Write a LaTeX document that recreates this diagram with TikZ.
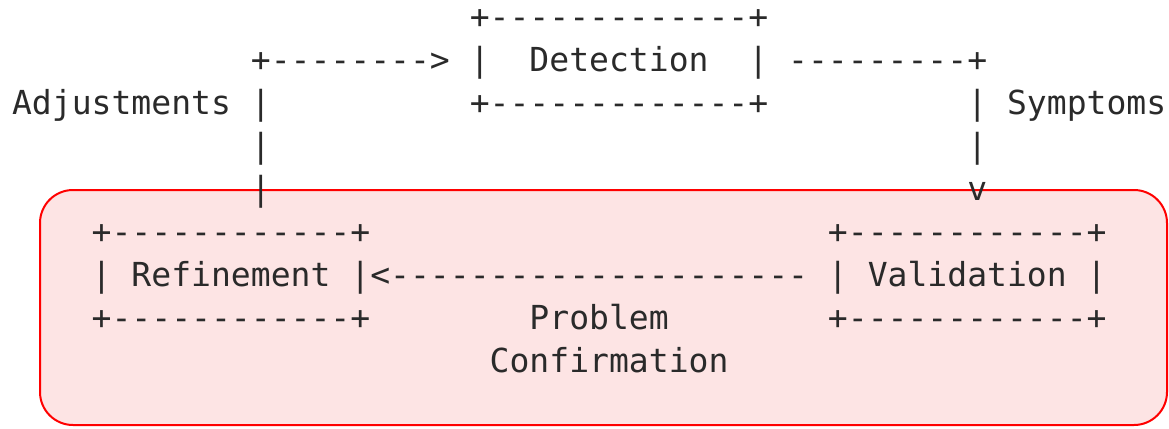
\documentclass[tikz,border=0pt]{standalone}
\usepackage{fontspec}
\setmonofont{DejaVu Sans Mono}
\definecolor{ink}{HTML}{2A2A2A}
\definecolor{zonefill}{HTML}{FDE4E4}
\definecolor{zoneline}{HTML}{FF0000}
% character grid: column width and row pitch of the monospaced layout
\newcommand{\cw}{19.9}
\newcommand{\xo}{12.05}
\newcommand{\yo}{71}
\newcommand{\rp}{43}
\begin{document}
\begin{tikzpicture}[x=1bp,y=-1bp,
  ascii/.style={font=\ttfamily\fontsize{33.06bp}{40bp}\selectfont,
    text=ink, inner sep=0pt, outer sep=0pt, anchor=base west},
  zone/.style={draw=zoneline, fill=zonefill, line width=2bp, rounded corners=33bp}]
\useasboundingbox (0,0) rectangle (1169,428);
% shaded region around the refinement / validation loop
\draw[zone] (40,190) rectangle (1167,425);
% helper: place a text fragment at grid column #2, row #3
\def\cell#1#2#3#4{\node[ascii] (#1) at ({\xo+\cw*#2},{\yo+\rp*(#3-2)}) {#4};}
% Detection box
\cell{dettop}{23}{1}{+-------------+}
\cell{detl}{23}{2}{|}
\cell{det}{26}{2}{Detection}
\cell{detr}{37}{2}{|}
\cell{detbot}{23}{3}{+-------------+}
% Adjustments feedback into Detection
\cell{adjarrow}{12}{2}{+-------->}
\cell{adj}{0}{3}{Adjustments |}
\cell{adjv1}{12}{4}{|}
\cell{adjv2}{12}{5}{|}
% Symptoms flow from Detection down to Validation
\cell{symh}{39}{2}{---------+}
\cell{sym}{48}{3}{| Symptoms}
\cell{symv}{48}{4}{|}
\cell{symtip}{48}{5}{v}
% Refinement box with Problem Confirmation arrow
\cell{reftop}{4}{6}{+------------+}
\cell{ref}{4}{7}{| Refinement |<---------------------}
\cell{refbot}{4}{8}{+------------+}
% Validation box
\cell{valtop}{41}{6}{+------------+}
\cell{val}{41}{7}{| Validation |}
\cell{valbot}{41}{8}{+------------+}
% arrow label
\cell{prob}{26}{8}{Problem}
\cell{conf}{24}{9}{Confirmation}
\end{tikzpicture}
\end{document}
